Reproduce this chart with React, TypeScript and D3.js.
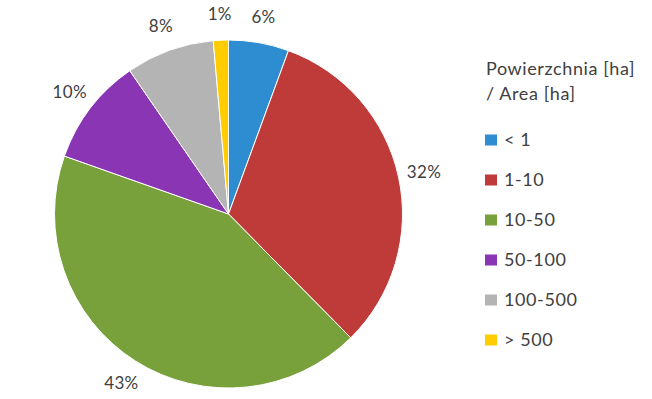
import React from "react";
import * as d3 from "d3";

const categories = ["< 1", "1-10", "10-50", "50-100", "100-500", "> 500"];
const values = [5.6, 32.0, 42.8, 10.0, 8.2, 1.4];
const labels = ["6%", "32%", "43%", "10%", "8%", "1%"];
const colors = ["#2E8DD1", "#BE3B3A", "#78A03B", "#8A35B4", "#B4B4B4", "#FFCC00"];
const legendTitle = ["Powierzchnia [ha]", "/ Area [ha]"];

const W = 652;
const H = 399;
const cx = 228.5;
const cy = 214;
const R = 174;
const font = "Lato, 'Open Sans', sans-serif";

export default function App() {
  const pie = d3.pie<number>().sort(null).value((d) => d);
  const arcs = pie(values);
  const arc = d3.arc<d3.PieArcDatum<number>>().innerRadius(0).outerRadius(R);
  const labelArc = d3.arc<d3.PieArcDatum<number>>().innerRadius(200).outerRadius(200);
  return (
    <svg width={W} height={H} style={{ position: "absolute", left: 0, top: 0, background: "#fff" }}>
      <rect width={W} height={H} fill="#fff" />
      <g transform={`translate(${cx},${cy})`}>
        {arcs.map((a, i) => (
          <path key={i} d={arc(a) || ""} fill={colors[i]} stroke="#fff" strokeWidth={1} />
        ))}
        {arcs.map((a, i) => {
          const [x, y] = labelArc.centroid(a);
          return (
            <text key={i} x={x} y={y} dy="0.35em" textAnchor="middle" fontFamily={font} fontSize={17} letterSpacing={0.3} fill="#404040">
              {labels[i]}
            </text>
          );
        })}
      </g>
      <g fontFamily={font} fontSize={18} fill="#404040" letterSpacing={0.6}>
        {legendTitle.map((t, i) => (
          <text key={i} x={486} y={75 + i * 25}>{t}</text>
        ))}
        {categories.map((c, i) => (
          <g key={c} transform={`translate(485,${140 + i * 40})`}>
            <rect x={0} y={-5.5} width={12} height={11} fill={colors[i]} />
            <text x={19} y={0} dy="0.35em">{c}</text>
          </g>
        ))}
      </g>
    </svg>
  );
}
